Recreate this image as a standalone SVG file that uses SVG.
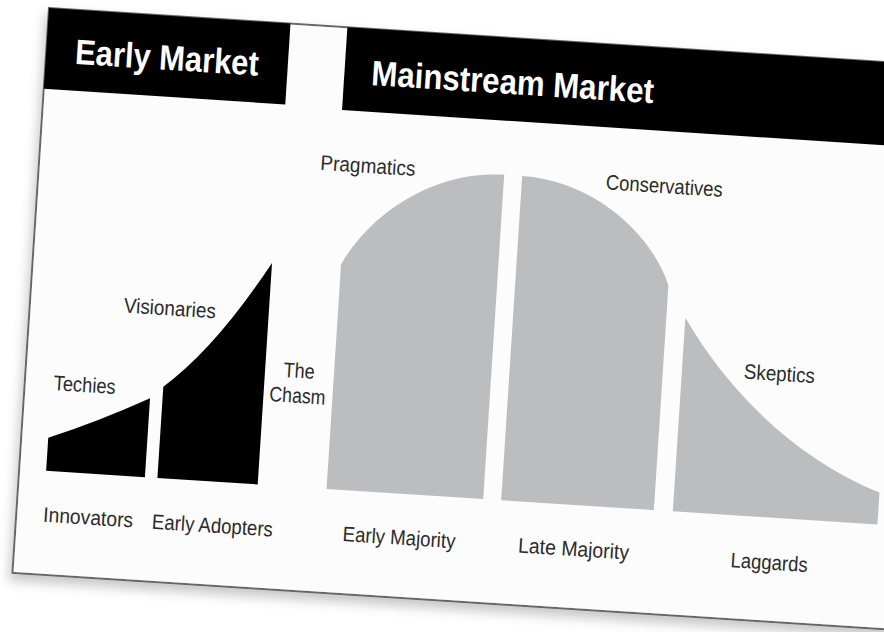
<svg xmlns="http://www.w3.org/2000/svg" width="884" height="632" viewBox="0 0 884 632">
  <style>
    .hdr { fill: #000; }
    .hdrtxt { fill: #fff; font-family: "Liberation Sans Narrow", "Liberation Sans", Arial, sans-serif; font-weight: bold; font-size: 35px; }
    .lbl { fill: #2b2b2b; font-family: "Liberation Sans Narrow", "Liberation Sans", Arial, sans-serif; font-size: 21px; }
    .early { fill: #000; }
    .main { fill: #bcbdbf; }
  </style>
  <defs>
    <filter id="shadow" x="-10%" y="-10%" width="120%" height="125%">
      <feDropShadow dx="-2" dy="7" stdDeviation="6" flood-color="#000" flood-opacity="0.22"/>
    </filter>
  </defs>
  <rect x="0" y="0" width="884" height="632" fill="#fff"/>
  <g transform="translate(49,8) rotate(3.7)">
    <g id="card">
      <rect x="0" y="0" width="920" height="566" fill="#fcfcfc" stroke="#666" stroke-width="2" filter="url(#shadow)"/>
    </g>
    <g id="header-early-market">
      <rect class="hdr" x="0" y="0" width="242" height="81"/>
      <text class="hdrtxt" x="29" y="54" textLength="184" lengthAdjust="spacingAndGlyphs">Early Market</text>
    </g>
    <g id="header-mainstream-market">
      <rect class="hdr" x="299" y="0" width="640" height="83"/>
      <text class="hdrtxt" x="326" y="56" textLength="283" lengthAdjust="spacingAndGlyphs">Mainstream Market</text>
    </g>
    <g id="innovators">
      <path class="early" d="M27,429 Q75,410 126,383 L126,462 L27,462 Z"/>
      <text class="lbl" x="29" y="381" textLength="62" lengthAdjust="spacingAndGlyphs">Techies</text>
      <text class="lbl" x="27" y="513" textLength="90" lengthAdjust="spacingAndGlyphs">Innovators</text>
    </g>
    <g id="early-adopters">
      <path class="early" d="M138.5,370.5 Q188,329 239,240 L239,462 L138.5,462 Z"/>
      <text class="lbl" x="94" y="299" textLength="92" lengthAdjust="spacingAndGlyphs">Visionaries</text>
      <text class="lbl" x="136" y="513" textLength="121" lengthAdjust="spacingAndGlyphs">Early Adopters</text>
    </g>
    <g id="the-chasm">
      <text class="lbl" x="273" y="353" text-anchor="middle" textLength="31" lengthAdjust="spacingAndGlyphs">The</text>
      <text class="lbl" x="273" y="378" text-anchor="middle" textLength="56" lengthAdjust="spacingAndGlyphs">Chasm</text>
    </g>
    <g id="early-majority">
      <path class="main" d="M308,237 C330,190 390,137 465,137 L465,462 L308,462 Z"/>
      <text class="lbl" x="281" y="144" textLength="95" lengthAdjust="spacingAndGlyphs">Pragmatics</text>
      <text class="lbl" x="327" y="513" textLength="113" lengthAdjust="spacingAndGlyphs">Early Majority</text>
    </g>
    <g id="late-majority">
      <path class="main" d="M483,137 C558,137 618,190 636,237 L636,462 L483,462 Z"/>
      <text class="lbl" x="567" y="145" textLength="117" lengthAdjust="spacingAndGlyphs">Conservatives</text>
      <text class="lbl" x="503" y="513" textLength="111" lengthAdjust="spacingAndGlyphs">Late Majority</text>
    </g>
    <g id="laggards">
      <path class="main" d="M655,268 C700,335 770,400 860,430 L860,462 L655,462 Z"/>
      <text class="lbl" x="717" y="325" textLength="71" lengthAdjust="spacingAndGlyphs">Skeptics</text>
      <text class="lbl" x="716" y="514" textLength="77" lengthAdjust="spacingAndGlyphs">Laggards</text>
    </g>
    <g id="connectors"></g>
  </g>
</svg>
